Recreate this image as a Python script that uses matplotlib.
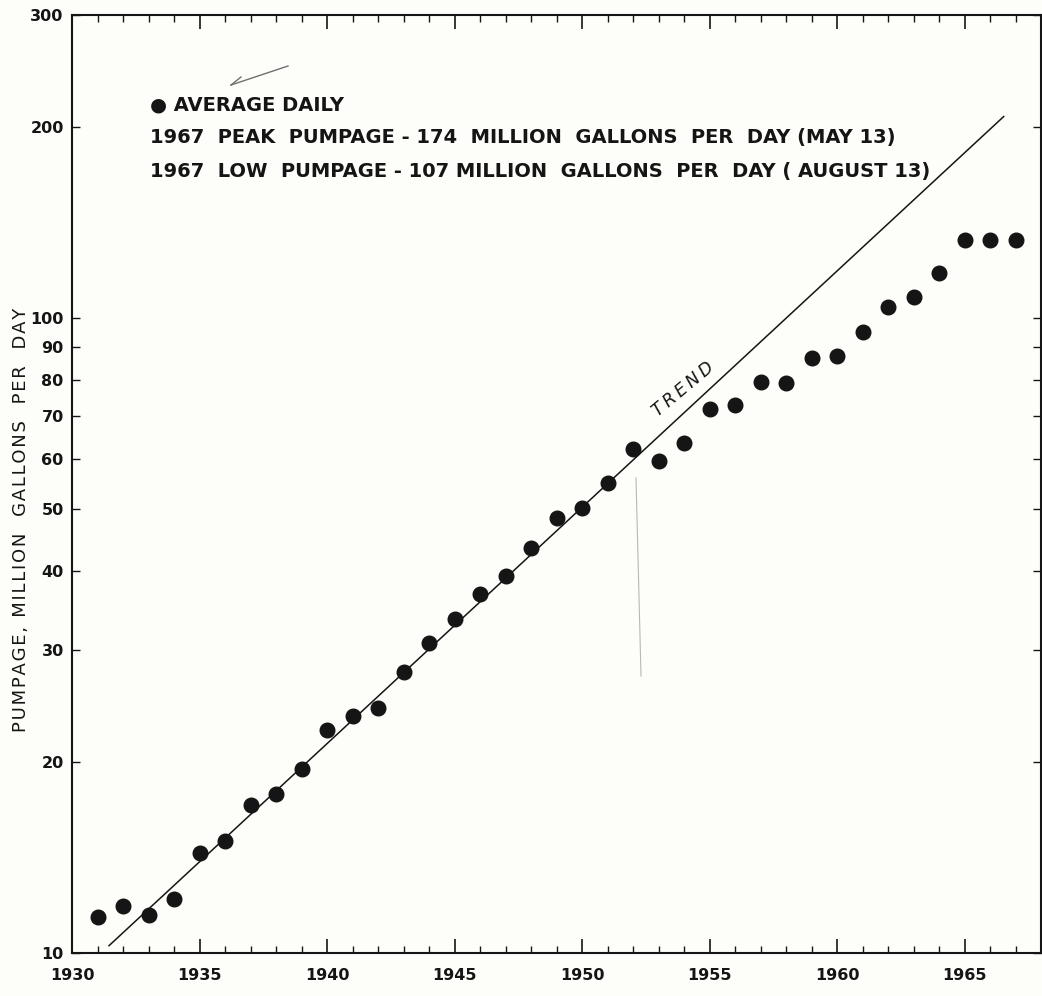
import numpy as np
import matplotlib
matplotlib.use("Agg")
import matplotlib.pyplot as plt
from matplotlib.lines import Line2D

# ---------------- data ----------------
years = list(range(1931, 1968))
avg_daily = [11.4, 11.85, 11.47, 12.18, 14.37, 14.99, 17.09, 17.83, 19.52, 22.43,
             23.6, 24.27, 27.71, 30.79, 33.56, 36.73, 39.21, 43.36, 48.34, 50.12,
             55.0, 62.1, 59.6, 63.6, 71.8, 72.9, 79.4, 78.9, 86.4, 87.1,
             95.1, 103.9, 108.0, 117.8, 132.7, 132.7, 132.7]
trend_years = [1931.43, 1966.56]
trend_values = [10.25, 208.0]

x_major = [1930, 1935, 1940, 1945, 1950, 1955, 1960, 1965]
x_minor = list(range(1930, 1969))
y_ticks = [10, 20, 30, 40, 50, 60, 70, 80, 90, 100, 200, 300]

ylabel = "PUMPAGE, MILLION  GALLONS  PER  DAY"
legend_lines = ["\u25CF AVERAGE DAILY",
                "1967  PEAK  PUMPAGE - 174  MILLION  GALLONS  PER  DAY (MAY 13)",
                "1967  LOW  PUMPAGE - 107 MILLION  GALLONS  PER  DAY ( AUGUST 13)"]
trend_label = "TREND"

# ---------------- figure ----------------
W, H = 1042, 996
BG = "#fdfdf9"
INK = "#151515"
fig = plt.figure(figsize=(W / 100, H / 100), dpi=100, facecolor=BG)

def fx(px):
    return px / W

def fy(py):
    return 1 - py / H

def spaced(s, sep="\u200a"):
    return sep.join(list(s))

ax = fig.add_axes([fx(72), fy(953), fx(1041) - fx(72), fy(15) - fy(953)])
ax.set_facecolor(BG)
ax.set_yscale("log")
ax.set_xlim(1930, 1968)
ax.set_ylim(10, 300)

ax.plot(trend_years, trend_values, color=INK, lw=1.1, solid_capstyle="butt", zorder=2)
ax.plot(years, avg_daily, "o", color=INK, ms=10.5, mec=INK, zorder=3)

for s in ax.spines.values():
    s.set_linewidth(1.5)
    s.set_color(INK)

ax.set_xticks(x_major)
ax.set_xticks(x_minor, minor=True)
ax.set_xticklabels([str(v) for v in x_major], fontsize=11.5, fontweight="bold", color=INK)
ax.yaxis.set_minor_locator(matplotlib.ticker.NullLocator())
ax.set_yticks(y_ticks)
ax.set_yticklabels([str(v) for v in y_ticks], fontsize=11.5, fontweight="bold", color=INK)
ax.yaxis.set_minor_formatter(matplotlib.ticker.NullFormatter())

ax.tick_params(axis="x", which="major", direction="in", length=10, width=1.2,
               top=True, bottom=True, pad=11, colors=INK)
ax.tick_params(axis="x", which="minor", direction="in", length=5, width=1.0,
               top=True, bottom=True, colors=INK)
ax.tick_params(axis="y", which="major", direction="in", length=6, width=1.0,
               left=True, right=True, pad=6, colors=INK)

# y-axis label (placed by figure pixel)
yl = fig.text(fx(21), fy(520), spaced(ylabel), rotation=90, ha="center", va="center",
              fontsize=12, color=INK, fontfamily="DejaVu Sans")

# legend-like text block
t1 = fig.text(fx(150), fy(110), legend_lines[0], ha="left", va="baseline",
              fontsize=14, fontweight="bold", color=INK)
t2 = fig.text(fx(150), fy(143), legend_lines[1], ha="left", va="baseline",
              fontsize=14, fontweight="bold", color=INK)
t3 = fig.text(fx(150), fy(177), legend_lines[2], ha="left", va="baseline",
              fontsize=14, fontweight="bold", color=INK)

# TREND label along line
tt = fig.text(fx(683), fy(389), spaced(trend_label, "\u2009"), rotation=40, ha="center",
              va="center", fontsize=12, style="italic", color=INK, rotation_mode="anchor")

# fit text widths to reference
fig.canvas.draw()
r = fig.canvas.get_renderer()
def fit_size(txt, target, use_h=False):
    bb = txt.get_window_extent(r)
    size = bb.height if use_h else bb.width
    return txt.get_fontsize() * target / size

s2 = fit_size(t2, 903 - 150)
s3 = fit_size(t3, 925 - 150)
s_leg = 0.5 * (s2 + s3)
for t in (t1, t2, t3):
    t.set_fontsize(s_leg)
yl.set_fontsize(fit_size(yl, 733 - 308, use_h=True))
tt.set_fontsize(fit_size(tt, 69, use_h=False))

# faint pencil marks from the scan
fig.add_artist(Line2D([fx(636), fx(641)], [fy(478), fy(676)], color="#b8b8b8", lw=0.8))
fig.add_artist(Line2D([fx(288), fx(231)], [fy(66), fy(85)], color="#707070", lw=1.0))
fig.add_artist(Line2D([fx(231), fx(241)], [fy(85), fy(77)], color="#707070", lw=1.0))

fig.savefig("out.png", dpi=100, facecolor=BG)
